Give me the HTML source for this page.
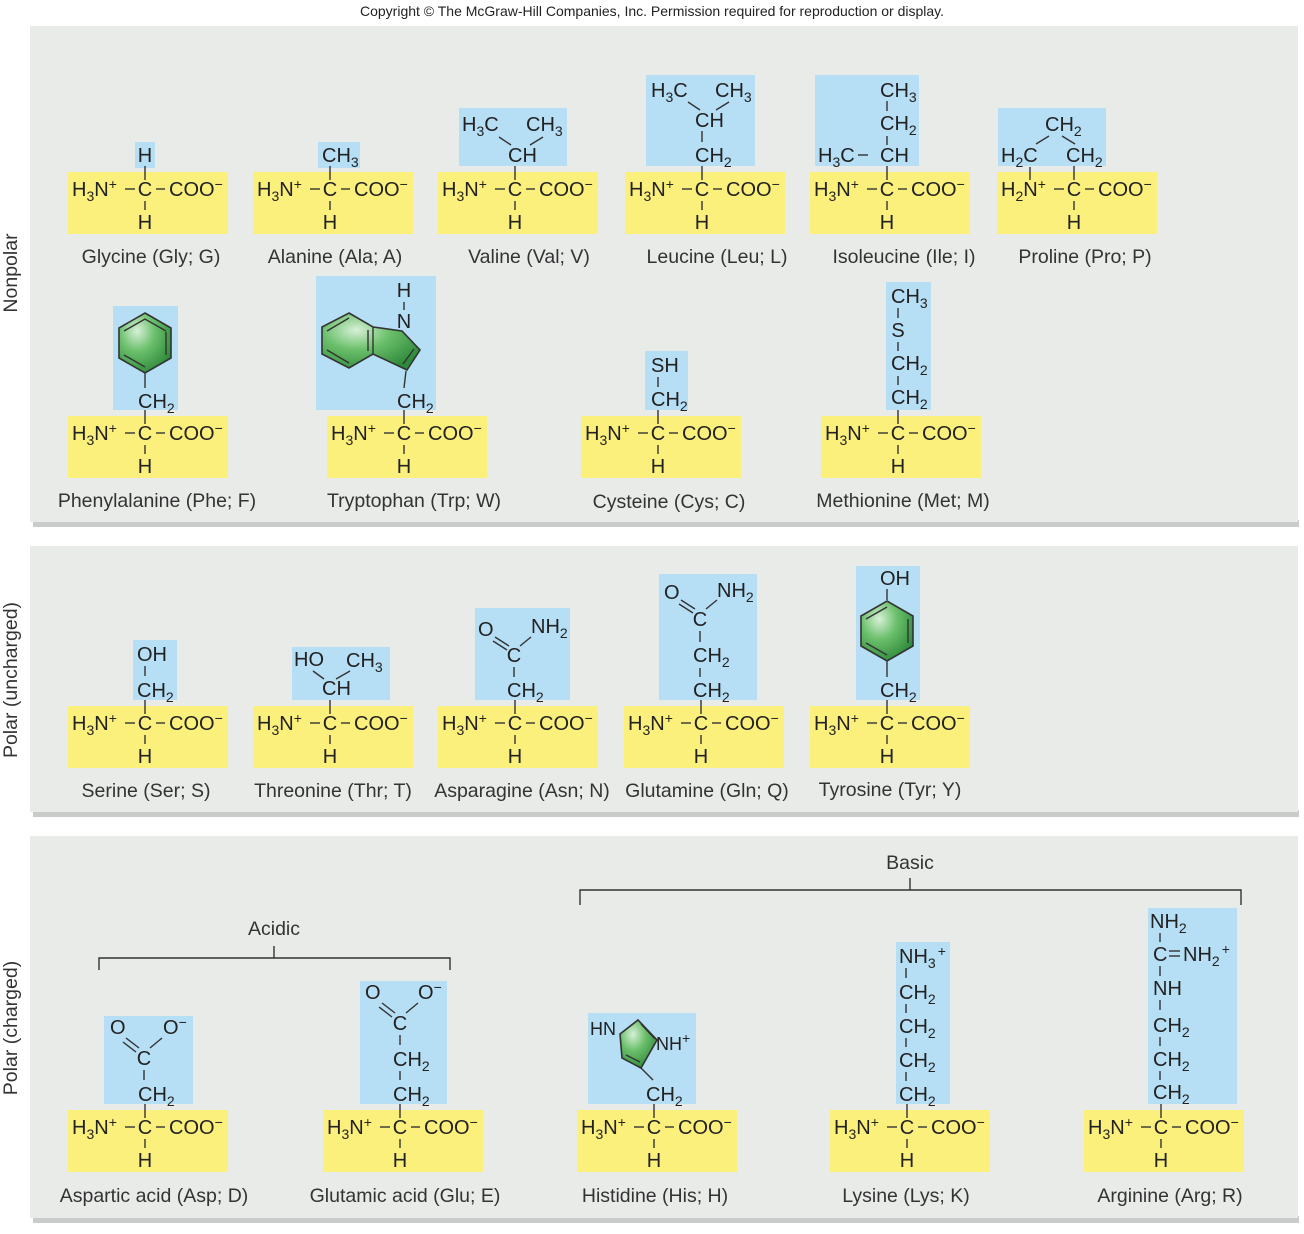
<!DOCTYPE html>
<html><head><meta charset="utf-8"><style>
html,body{margin:0;padding:0;background:#fff}
svg{display:block}
text{font-family:"Liberation Sans",Arial,sans-serif;font-size:20px;fill:#222}
.s{font-size:14px}
.m{text-anchor:middle}
.lab{font-size:19.5px;fill:#333;text-anchor:middle}
line,polyline,path,polygon{stroke:#333;stroke-width:1.4;fill:none}
.y{fill:#fcf07c;stroke:none}
.b{fill:#b6def4;stroke:none}
.p{fill:#e9ebe9;stroke:none}
.sh{fill:#c9cbca;stroke:none}
.ring{fill:url(#g);stroke:#333;stroke-width:1.6}
</style></head><body>
<svg width="1304" height="1234" viewBox="0 0 1304 1234" xmlns="http://www.w3.org/2000/svg">
<defs>
<radialGradient id="g" cx="0.35" cy="0.3" r="0.75"><stop offset="0" stop-color="#d8f0d8"/><stop offset="0.45" stop-color="#6cc06c"/><stop offset="1" stop-color="#2e8a3a"/></radialGradient>
<g id="bb">
<rect class="y" width="160" height="62"/>
<line x1="77" y1="-6" x2="77" y2="8"/>
<line x1="57" y1="17" x2="67" y2="17"/>
<line x1="88" y1="17" x2="97" y2="17"/>
<line x1="77" y1="29" x2="77" y2="38"/>
</g>
</defs>
<text x="652" y="16" style="font-size:14px" class="m">Copyright © The McGraw-Hill Companies, Inc. Permission required for reproduction or display.</text>

<rect class="sh" x="33" y="520" width="1266" height="7"/>
<rect class="p" x="30" y="26" width="1268" height="496"/>
<rect class="sh" x="33" y="810" width="1266" height="7"/>
<rect class="p" x="30" y="546" width="1268" height="266"/>
<rect class="sh" x="33" y="1216" width="1266" height="7"/>
<rect class="p" x="30" y="836" width="1268" height="382"/>

<text transform="translate(17,273) rotate(-90)" class="lab">Nonpolar</text>
<text transform="translate(17,680) rotate(-90)" class="lab">Polar (uncharged)</text>
<text transform="translate(17,1028) rotate(-90)" class="lab">Polar (charged)</text>

<!-- Blue side-chain boxes -->
<rect class="b" x="135" y="142" width="20" height="26"/>
<rect class="b" x="318" y="142" width="42" height="26"/>
<rect class="b" x="459" y="108" width="108" height="58"/>
<rect class="b" x="646" y="75" width="109" height="91"/>
<rect class="b" x="815" y="75" width="104" height="91"/>
<rect class="b" x="998" y="108" width="108" height="58"/>
<rect class="b" x="113" y="306" width="65" height="104"/>
<rect class="b" x="316" y="276" width="120" height="134"/>
<rect class="b" x="645" y="351" width="43" height="59"/>
<rect class="b" x="886" y="282" width="45" height="128"/>
<rect class="b" x="133" y="640" width="44" height="60"/>
<rect class="b" x="292" y="647" width="98" height="53"/>
<rect class="b" x="475" y="608" width="95" height="92"/>
<rect class="b" x="659" y="574" width="98" height="126"/>
<rect class="b" x="856" y="566" width="64" height="134"/>
<rect class="b" x="104" y="1016" width="89" height="88"/>
<rect class="b" x="360" y="981" width="87" height="123"/>
<rect class="b" x="588" y="1013" width="108" height="91"/>
<rect class="b" x="896" y="942" width="54" height="162"/>
<rect class="b" x="1148" y="908" width="89" height="196"/>

<!-- Backbones -->
<use href="#bb" x="68" y="172"/><use href="#bb" x="253" y="172"/><use href="#bb" x="438" y="172"/>
<use href="#bb" x="625" y="172"/><use href="#bb" x="810" y="172"/><use href="#bb" x="997" y="172"/>
<use href="#bb" x="68" y="416"/><use href="#bb" x="327" y="416"/><use href="#bb" x="581" y="416"/><use href="#bb" x="821" y="416"/>
<use href="#bb" x="68" y="706"/><use href="#bb" x="253" y="706"/><use href="#bb" x="438" y="706"/><use href="#bb" x="624" y="706"/><use href="#bb" x="810" y="706"/>
<use href="#bb" x="68" y="1110"/><use href="#bb" x="323" y="1110"/><use href="#bb" x="577" y="1110"/><use href="#bb" x="830" y="1110"/><use href="#bb" x="1084" y="1110"/>

<!-- Backbone text (row1) -->
<g transform="translate(68,172)"><text x="4" y="24">H<tspan class="s" dy="5">3</tspan><tspan dy="-5">N</tspan><tspan class="s" dy="-7">+</tspan></text><text x="77" y="24" class="m">C</text><text x="101" y="24">COO<tspan class="s" dy="-7">−</tspan></text><text x="77" y="57" class="m">H</text></g>
<g transform="translate(253,172)"><text x="4" y="24">H<tspan class="s" dy="5">3</tspan><tspan dy="-5">N</tspan><tspan class="s" dy="-7">+</tspan></text><text x="77" y="24" class="m">C</text><text x="101" y="24">COO<tspan class="s" dy="-7">−</tspan></text><text x="77" y="57" class="m">H</text></g>
<g transform="translate(438,172)"><text x="4" y="24">H<tspan class="s" dy="5">3</tspan><tspan dy="-5">N</tspan><tspan class="s" dy="-7">+</tspan></text><text x="77" y="24" class="m">C</text><text x="101" y="24">COO<tspan class="s" dy="-7">−</tspan></text><text x="77" y="57" class="m">H</text></g>
<g transform="translate(625,172)"><text x="4" y="24">H<tspan class="s" dy="5">3</tspan><tspan dy="-5">N</tspan><tspan class="s" dy="-7">+</tspan></text><text x="77" y="24" class="m">C</text><text x="101" y="24">COO<tspan class="s" dy="-7">−</tspan></text><text x="77" y="57" class="m">H</text></g>
<g transform="translate(810,172)"><text x="4" y="24">H<tspan class="s" dy="5">3</tspan><tspan dy="-5">N</tspan><tspan class="s" dy="-7">+</tspan></text><text x="77" y="24" class="m">C</text><text x="101" y="24">COO<tspan class="s" dy="-7">−</tspan></text><text x="77" y="57" class="m">H</text></g>
<g transform="translate(997,172)"><text x="4" y="24">H<tspan class="s" dy="5">2</tspan><tspan dy="-5">N</tspan><tspan class="s" dy="-7">+</tspan></text><text x="77" y="24" class="m">C</text><text x="101" y="24">COO<tspan class="s" dy="-7">−</tspan></text><text x="77" y="57" class="m">H</text></g>
<!-- row2 -->
<g transform="translate(68,416)"><text x="4" y="24">H<tspan class="s" dy="5">3</tspan><tspan dy="-5">N</tspan><tspan class="s" dy="-7">+</tspan></text><text x="77" y="24" class="m">C</text><text x="101" y="24">COO<tspan class="s" dy="-7">−</tspan></text><text x="77" y="57" class="m">H</text></g>
<g transform="translate(327,416)"><text x="4" y="24">H<tspan class="s" dy="5">3</tspan><tspan dy="-5">N</tspan><tspan class="s" dy="-7">+</tspan></text><text x="77" y="24" class="m">C</text><text x="101" y="24">COO<tspan class="s" dy="-7">−</tspan></text><text x="77" y="57" class="m">H</text></g>
<g transform="translate(581,416)"><text x="4" y="24">H<tspan class="s" dy="5">3</tspan><tspan dy="-5">N</tspan><tspan class="s" dy="-7">+</tspan></text><text x="77" y="24" class="m">C</text><text x="101" y="24">COO<tspan class="s" dy="-7">−</tspan></text><text x="77" y="57" class="m">H</text></g>
<g transform="translate(821,416)"><text x="4" y="24">H<tspan class="s" dy="5">3</tspan><tspan dy="-5">N</tspan><tspan class="s" dy="-7">+</tspan></text><text x="77" y="24" class="m">C</text><text x="101" y="24">COO<tspan class="s" dy="-7">−</tspan></text><text x="77" y="57" class="m">H</text></g>
<!-- panel2 -->
<g transform="translate(68,706)"><text x="4" y="24">H<tspan class="s" dy="5">3</tspan><tspan dy="-5">N</tspan><tspan class="s" dy="-7">+</tspan></text><text x="77" y="24" class="m">C</text><text x="101" y="24">COO<tspan class="s" dy="-7">−</tspan></text><text x="77" y="57" class="m">H</text></g>
<g transform="translate(253,706)"><text x="4" y="24">H<tspan class="s" dy="5">3</tspan><tspan dy="-5">N</tspan><tspan class="s" dy="-7">+</tspan></text><text x="77" y="24" class="m">C</text><text x="101" y="24">COO<tspan class="s" dy="-7">−</tspan></text><text x="77" y="57" class="m">H</text></g>
<g transform="translate(438,706)"><text x="4" y="24">H<tspan class="s" dy="5">3</tspan><tspan dy="-5">N</tspan><tspan class="s" dy="-7">+</tspan></text><text x="77" y="24" class="m">C</text><text x="101" y="24">COO<tspan class="s" dy="-7">−</tspan></text><text x="77" y="57" class="m">H</text></g>
<g transform="translate(624,706)"><text x="4" y="24">H<tspan class="s" dy="5">3</tspan><tspan dy="-5">N</tspan><tspan class="s" dy="-7">+</tspan></text><text x="77" y="24" class="m">C</text><text x="101" y="24">COO<tspan class="s" dy="-7">−</tspan></text><text x="77" y="57" class="m">H</text></g>
<g transform="translate(810,706)"><text x="4" y="24">H<tspan class="s" dy="5">3</tspan><tspan dy="-5">N</tspan><tspan class="s" dy="-7">+</tspan></text><text x="77" y="24" class="m">C</text><text x="101" y="24">COO<tspan class="s" dy="-7">−</tspan></text><text x="77" y="57" class="m">H</text></g>
<!-- panel3 -->
<g transform="translate(68,1110)"><text x="4" y="24">H<tspan class="s" dy="5">3</tspan><tspan dy="-5">N</tspan><tspan class="s" dy="-7">+</tspan></text><text x="77" y="24" class="m">C</text><text x="101" y="24">COO<tspan class="s" dy="-7">−</tspan></text><text x="77" y="57" class="m">H</text></g>
<g transform="translate(323,1110)"><text x="4" y="24">H<tspan class="s" dy="5">3</tspan><tspan dy="-5">N</tspan><tspan class="s" dy="-7">+</tspan></text><text x="77" y="24" class="m">C</text><text x="101" y="24">COO<tspan class="s" dy="-7">−</tspan></text><text x="77" y="57" class="m">H</text></g>
<g transform="translate(577,1110)"><text x="4" y="24">H<tspan class="s" dy="5">3</tspan><tspan dy="-5">N</tspan><tspan class="s" dy="-7">+</tspan></text><text x="77" y="24" class="m">C</text><text x="101" y="24">COO<tspan class="s" dy="-7">−</tspan></text><text x="77" y="57" class="m">H</text></g>
<g transform="translate(830,1110)"><text x="4" y="24">H<tspan class="s" dy="5">3</tspan><tspan dy="-5">N</tspan><tspan class="s" dy="-7">+</tspan></text><text x="77" y="24" class="m">C</text><text x="101" y="24">COO<tspan class="s" dy="-7">−</tspan></text><text x="77" y="57" class="m">H</text></g>
<g transform="translate(1084,1110)"><text x="4" y="24">H<tspan class="s" dy="5">3</tspan><tspan dy="-5">N</tspan><tspan class="s" dy="-7">+</tspan></text><text x="77" y="24" class="m">C</text><text x="101" y="24">COO<tspan class="s" dy="-7">−</tspan></text><text x="77" y="57" class="m">H</text></g>

<!-- Side chains row1 -->
<text x="145" y="162" class="m">H</text>
<text x="322" y="162">CH<tspan class="s" dy="5">3</tspan></text>
<!-- Valine -->
<text x="462" y="131">H<tspan class="s" dy="5">3</tspan><tspan dy="-5">C</tspan></text>
<text x="526" y="131">CH<tspan class="s" dy="5">3</tspan></text>
<line x1="499" y1="137" x2="511" y2="145"/><line x1="530" y1="145" x2="543" y2="137"/>
<text x="508" y="162">CH</text>
<!-- Leucine -->
<text x="651" y="97">H<tspan class="s" dy="5">3</tspan><tspan dy="-5">C</tspan></text>
<text x="715" y="97">CH<tspan class="s" dy="5">3</tspan></text>
<line x1="688" y1="102" x2="700" y2="110"/><line x1="716" y1="110" x2="729" y2="102"/>
<text x="695" y="127">CH</text>
<line x1="702" y1="131" x2="702" y2="142"/>
<text x="695" y="162">CH<tspan class="s" dy="5">2</tspan></text>
<!-- Isoleucine -->
<text x="880" y="97">CH<tspan class="s" dy="5">3</tspan></text>
<line x1="887" y1="101" x2="887" y2="111"/>
<text x="880" y="130">CH<tspan class="s" dy="5">2</tspan></text>
<line x1="887" y1="136" x2="887" y2="145"/>
<text x="880" y="162">CH</text>
<text x="818" y="162">H<tspan class="s" dy="5">3</tspan><tspan dy="-5">C</tspan></text>
<line x1="858" y1="155" x2="868" y2="155"/>
<!-- Proline -->
<text x="1045" y="131">CH<tspan class="s" dy="5">2</tspan></text>
<line x1="1036" y1="144" x2="1049" y2="136"/><line x1="1062" y1="136" x2="1075" y2="144"/>
<text x="1001" y="162">H<tspan class="s" dy="5">2</tspan><tspan dy="-5">C</tspan></text>
<text x="1066" y="162">CH<tspan class="s" dy="5">2</tspan></text>
<line x1="1030" y1="167" x2="1030" y2="180"/>

<!-- Row2 side chains -->
<polygon class="ring" points="145,313 171,328 171,358 145,373 119,358 119,328"/>
<polyline points="124,331 145,319 166,331"/><line x1="166" y1="332" x2="166" y2="355"/><line x1="124" y1="355" x2="145" y2="367"/>
<line x1="145" y1="373" x2="145" y2="388"/>
<text x="138" y="408">CH<tspan class="s" dy="5">2</tspan></text>
<!-- Trp -->
<path class="ring" d="M349,313 L373,327 L402,331 L420,350 L407,370 L373,354 L349,368 L322,354 L322,327 Z"/>
<line x1="373" y1="327" x2="373" y2="354"/>
<line x1="368" y1="330" x2="368" y2="351"/><line x1="327" y1="331" x2="349" y2="318"/><line x1="327" y1="350" x2="349" y2="363"/>
<line x1="403" y1="364" x2="414" y2="349"/>
<text x="404" y="297" class="m">H</text>
<line x1="404" y1="302" x2="404" y2="310"/>
<text x="404" y="328" class="m">N</text>
<line x1="406" y1="371" x2="404" y2="388"/>
<text x="397" y="408">CH<tspan class="s" dy="5">2</tspan></text>
<!-- Cys -->
<text x="651" y="372">SH</text>
<line x1="658" y1="377" x2="658" y2="387"/>
<text x="651" y="406">CH<tspan class="s" dy="5">2</tspan></text>
<!-- Met -->
<text x="891" y="303">CH<tspan class="s" dy="5">3</tspan></text>
<line x1="898" y1="308" x2="898" y2="318"/>
<text x="898" y="337" class="m">S</text>
<line x1="898" y1="342" x2="898" y2="351"/>
<text x="891" y="370">CH<tspan class="s" dy="5">2</tspan></text>
<line x1="898" y1="376" x2="898" y2="385"/>
<text x="891" y="404">CH<tspan class="s" dy="5">2</tspan></text>

<!-- Panel 2 side chains -->
<text x="137" y="661">OH</text>
<line x1="145" y1="666" x2="145" y2="676"/>
<text x="137" y="697">CH<tspan class="s" dy="5">2</tspan></text>
<text x="294" y="666">HO</text>
<text x="346" y="667">CH<tspan class="s" dy="5">3</tspan></text>
<line x1="313" y1="671" x2="324" y2="679"/><line x1="336" y1="679" x2="350" y2="671"/>
<text x="322" y="695">CH</text>
<!-- Asn -->
<text x="478" y="636">O</text>
<text x="531" y="633">NH<tspan class="s" dy="5">2</tspan></text>
<line x1="495" y1="637" x2="509" y2="646"/><line x1="493" y1="641" x2="507" y2="650"/>
<line x1="520" y1="646" x2="531" y2="637"/>
<text x="514" y="662" class="m">C</text>
<line x1="514" y1="667" x2="514" y2="677"/>
<text x="507" y="697">CH<tspan class="s" dy="5">2</tspan></text>
<!-- Gln -->
<text x="664" y="599">O</text>
<text x="717" y="597">NH<tspan class="s" dy="5">2</tspan></text>
<line x1="681" y1="600" x2="695" y2="609"/><line x1="679" y1="604" x2="693" y2="613"/>
<line x1="706" y1="609" x2="717" y2="600"/>
<text x="700" y="626" class="m">C</text>
<line x1="700" y1="631" x2="700" y2="642"/>
<text x="693" y="662">CH<tspan class="s" dy="5">2</tspan></text>
<line x1="700" y1="668" x2="700" y2="677"/>
<text x="693" y="697">CH<tspan class="s" dy="5">2</tspan></text>
<!-- Tyr -->
<text x="880" y="585">OH</text>
<line x1="887" y1="589" x2="887" y2="600"/>
<polygon class="ring" points="887,601 913,616 913,646 887,661 861,646 861,616"/>
<line x1="866" y1="619" x2="887" y2="607"/><line x1="908" y1="619" x2="908" y2="643"/><line x1="866" y1="643" x2="887" y2="655"/>
<line x1="887" y1="661" x2="887" y2="677"/>
<text x="880" y="697">CH<tspan class="s" dy="5">2</tspan></text>

<!-- Panel 3 side chains -->
<text x="110" y="1034">O</text>
<text x="163" y="1034">O<tspan class="s" dy="-7">−</tspan></text>
<line x1="126" y1="1038" x2="139" y2="1048"/><line x1="123" y1="1042" x2="136" y2="1052"/>
<line x1="150" y1="1048" x2="162" y2="1038"/>
<text x="144" y="1065" class="m">C</text>
<line x1="144" y1="1070" x2="144" y2="1080"/>
<text x="138" y="1101">CH<tspan class="s" dy="5">2</tspan></text>
<!-- Glu -->
<text x="365" y="999">O</text>
<text x="418" y="999">O<tspan class="s" dy="-7">−</tspan></text>
<line x1="382" y1="1003" x2="395" y2="1013"/><line x1="379" y1="1007" x2="392" y2="1017"/>
<line x1="406" y1="1013" x2="418" y2="1003"/>
<text x="400" y="1030" class="m">C</text>
<line x1="400" y1="1035" x2="400" y2="1045"/>
<text x="393" y="1066">CH<tspan class="s" dy="5">2</tspan></text>
<line x1="400" y1="1071" x2="400" y2="1080"/>
<text x="393" y="1101">CH<tspan class="s" dy="5">2</tspan></text>
<!-- His -->
<polygon class="ring" points="620,1034 638,1020 657,1040 641,1068 622,1058"/>
<line x1="626" y1="1055" x2="640" y2="1062"/><line x1="641" y1="1024" x2="655" y2="1039"/>
<text x="590" y="1035" style="font-size:18px">HN</text>
<text x="656" y="1050" style="font-size:18px">NH<tspan class="s" dy="-7">+</tspan></text>
<line x1="641" y1="1068" x2="653" y2="1080"/>
<text x="646" y="1101">CH<tspan class="s" dy="5">2</tspan></text>
<!-- Lys -->
<text x="899" y="963">NH<tspan class="s" dy="5">3</tspan><tspan class="s" dy="-12" dx="2">+</tspan></text>
<line x1="906" y1="968" x2="906" y2="978"/>
<text x="899" y="999">CH<tspan class="s" dy="5">2</tspan></text>
<line x1="906" y1="1004" x2="906" y2="1013"/>
<text x="899" y="1033">CH<tspan class="s" dy="5">2</tspan></text>
<line x1="906" y1="1038" x2="906" y2="1047"/>
<text x="899" y="1067">CH<tspan class="s" dy="5">2</tspan></text>
<line x1="906" y1="1072" x2="906" y2="1081"/>
<text x="899" y="1101">CH<tspan class="s" dy="5">2</tspan></text>
<!-- Arg -->
<text x="1150" y="928">NH<tspan class="s" dy="5">2</tspan></text>
<line x1="1160" y1="933" x2="1160" y2="942"/>
<text x="1153" y="961">C</text>
<line x1="1169" y1="951" x2="1180" y2="951"/><line x1="1169" y1="956" x2="1180" y2="956"/>
<text x="1183" y="961">NH<tspan class="s" dy="5">2</tspan><tspan class="s" dy="-12" dx="2">+</tspan></text>
<line x1="1160" y1="966" x2="1160" y2="976"/>
<text x="1153" y="995">NH</text>
<line x1="1160" y1="1000" x2="1160" y2="1010"/>
<text x="1153" y="1032">CH<tspan class="s" dy="5">2</tspan></text>
<line x1="1160" y1="1037" x2="1160" y2="1046"/>
<text x="1153" y="1066">CH<tspan class="s" dy="5">2</tspan></text>
<line x1="1160" y1="1071" x2="1160" y2="1080"/>
<text x="1153" y="1099">CH<tspan class="s" dy="5">2</tspan></text>

<!-- Brackets -->
<text x="274" y="935" class="lab">Acidic</text>
<polyline points="99,970 99,958 450,958 450,970"/><line x1="274" y1="946" x2="274" y2="958"/>
<text x="910" y="869" class="lab">Basic</text>
<polyline points="580,905 580,890 1241,890 1241,905"/><line x1="910" y1="878" x2="910" y2="890"/>

<!-- Labels -->
<text x="151" y="263" class="lab">Glycine (Gly; G)</text>
<text x="335" y="263" class="lab">Alanine (Ala; A)</text>
<text x="529" y="263" class="lab">Valine (Val; V)</text>
<text x="717" y="263" class="lab">Leucine (Leu; L)</text>
<text x="904" y="263" class="lab">Isoleucine (Ile; I)</text>
<text x="1085" y="263" class="lab">Proline (Pro; P)</text>
<text x="157" y="507" class="lab">Phenylalanine (Phe; F)</text>
<text x="414" y="507" class="lab">Tryptophan (Trp; W)</text>
<text x="669" y="508" class="lab">Cysteine (Cys; C)</text>
<text x="903" y="507" class="lab">Methionine (Met; M)</text>
<text x="146" y="797" class="lab">Serine (Ser; S)</text>
<text x="333" y="797" class="lab">Threonine (Thr; T)</text>
<text x="522" y="797" class="lab">Asparagine (Asn; N)</text>
<text x="707" y="797" class="lab">Glutamine (Gln; Q)</text>
<text x="890" y="796" class="lab">Tyrosine (Tyr; Y)</text>
<text x="154" y="1202" class="lab">Aspartic acid (Asp; D)</text>
<text x="405" y="1202" class="lab">Glutamic acid (Glu; E)</text>
<text x="655" y="1202" class="lab">Histidine (His; H)</text>
<text x="906" y="1202" class="lab">Lysine (Lys; K)</text>
<text x="1170" y="1202" class="lab">Arginine (Arg; R)</text>
</svg>
</body></html>
